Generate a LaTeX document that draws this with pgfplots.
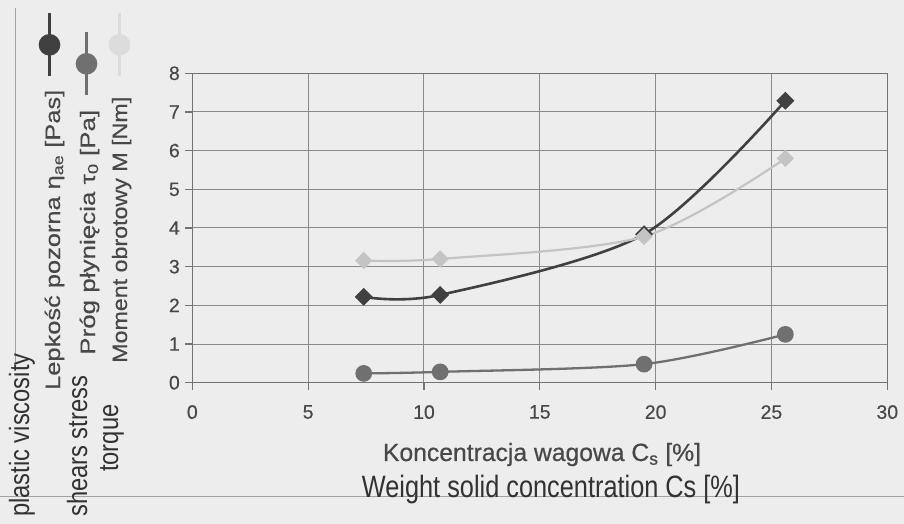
\documentclass[border=0pt]{standalone}
\usepackage{fontspec}
\setmainfont{Liberation Sans}
\newfontfamily\semib[FakeBold=0.6]{Liberation Sans}
\newfontfamily\semic[FakeBold=0.35]{Liberation Sans}
\usepackage{graphicx}
\usepackage{pgfplots}
\pgfplotsset{compat=1.18}
\definecolor{bgc}{RGB}{237,237,237}
\definecolor{gridc}{RGB}{138,138,138}
\definecolor{axc}{RGB}{115,115,115}
\definecolor{tickc}{RGB}{72,72,72}
\definecolor{viscc}{RGB}{64,64,64}
\definecolor{yieldc}{RGB}{112,112,112}
\definecolor{torqc}{RGB}{196,196,196}
\definecolor{engc}{RGB}{50,50,50}
\newcommand{\legfont}{\semic\fontsize{21}{24}\selectfont}
\newcommand{\engfont}{\fontsize{28}{32}\selectfont}
\pgfplotsset{
  legkey/.style n args={2}{
    hide axis, scale only axis, width=904bp, height=524bp,
    at={(0bp,0bp)}, anchor=south west, xmin=0, xmax=1, ymin=0, ymax=1,
    legend image code/.code={\draw[mark repeat=2,mark phase=2,##1] plot coordinates {(0bp,0bp) (0bp,-31.5bp) (0bp,-63bp)};},
    legend style={draw=none, fill=none, inner sep=0pt, outer sep=0pt,
      at={(#1/904,#2/524)}, anchor=north, column sep=0pt,
      nodes={inner sep=0pt}},
  },
}
\begin{document}
\begin{tikzpicture}
\fill[bgc] (0bp,0bp) rectangle (904bp,524bp);
\useasboundingbox (0bp,0bp) rectangle (904bp,524bp);
\draw[color=gridc!80, line width=1bp] (0bp,27bp) -- (904bp,27bp);
\draw[color=gridc!80, line width=1bp] (15bp,162bp) -- (15bp,516bp);
\begin{axis}[
  at={(192.3bp,141.3bp)}, anchor=south west,
  scale only axis, width=695bp, height=309.4bp,
  xmin=0, xmax=30, ymin=0, ymax=8,
  xtick={0,5,...,30}, ytick={0,1,...,8},
  xtick pos=lower, ytick pos=left,
  grid=major,
  major grid style={color=gridc, line width=1bp},
  axis line style={color=axc, line width=1.2bp},
  tick style={color=axc, line width=1.1bp},
  tick align=outside, major tick length=7bp,
  /pgf/number format/assume math mode=true,
  ticklabel style={font=\semic\fontsize{19.5}{22}\selectfont, text=tickc},
  xticklabel style={yshift=-12bp},
  yticklabel style={xshift=-2bp},
  clip=false,
]
\addplot[color=viscc, line width=2.6bp, smooth, mark=square*, mark size=5bp, mark options={rotate=45, solid}]
  coordinates {(7.4,2.22) (10.7,2.27) (19.5,3.84) (25.6,7.29)};
\addplot[color=yieldc, line width=2.3bp, smooth, mark=*, mark size=7.2bp]
  coordinates {(7.4,0.24) (10.7,0.28) (19.5,0.48) (25.6,1.25)};
\addplot[color=torqc, line width=2.2bp, smooth, mark=square*, mark size=5bp, mark options={rotate=45}]
  coordinates {(7.4,3.16) (10.7,3.20) (19.5,3.78) (25.6,5.80)};
\end{axis}
\begin{axis}[legkey={50}{512}]
\addlegendimage{color=viscc, line width=2.6bp, mark=*, mark size=9.5bp}
\addlegendentry{}
\end{axis}
\begin{axis}[legkey={87}{493}]
\addlegendimage{color=yieldc, line width=2.6bp, mark=*, mark size=9.5bp}
\addlegendentry{}
\end{axis}
\begin{axis}[legkey={120}{512}]
\addlegendimage{color=torqc!60, line width=2.6bp, mark=*, mark size=9.5bp}
\addlegendentry{}
\end{axis}
\node[anchor=base west, rotate=90, inner sep=0pt, text=tickc, font=\legfont] at (60bp,134bp) {\resizebox{300bp}{\height}{Lepkość pozorna η\textsubscript{ae} [Pas]}};
\node[anchor=base west, rotate=90, inner sep=0pt, text=tickc, font=\legfont] at (95bp,169bp) {\resizebox{245bp}{\height}{Próg płynięcia τ\textsubscript{0} [Pa]}};
\node[anchor=base west, rotate=90, inner sep=0pt, text=tickc, font=\legfont] at (127bp,161bp) {\resizebox{266bp}{\height}{Moment obrotowy M [Nm]}};
\node[anchor=base, text=tickc, font=\semib\fontsize{25}{28}\selectfont] at (542bp,63bp) {\resizebox{318bp}{\height}{Koncentracja wagowa C\textsubscript{s} [\%]}};
\node[anchor=base, text=engc, font=\fontsize{31}{34}\selectfont] at (551bp,27bp) {\scalebox{0.82}[1]{Weight solid concentration Cs [\%]}};
\node[anchor=base west, rotate=90, inner sep=0pt, text=engc, font=\engfont] at (29bp,7bp) {\scalebox{0.85}[1]{plastic viscosity}};
\node[anchor=base west, rotate=90, inner sep=0pt, text=engc, font=\engfont] at (87bp,7bp) {\scalebox{0.85}[1]{shears stress}};
\node[anchor=base west, rotate=90, inner sep=0pt, text=engc, font=\engfont] at (118bp,52bp) {\scalebox{0.85}[1]{torque}};
\end{tikzpicture}
\end{document}
